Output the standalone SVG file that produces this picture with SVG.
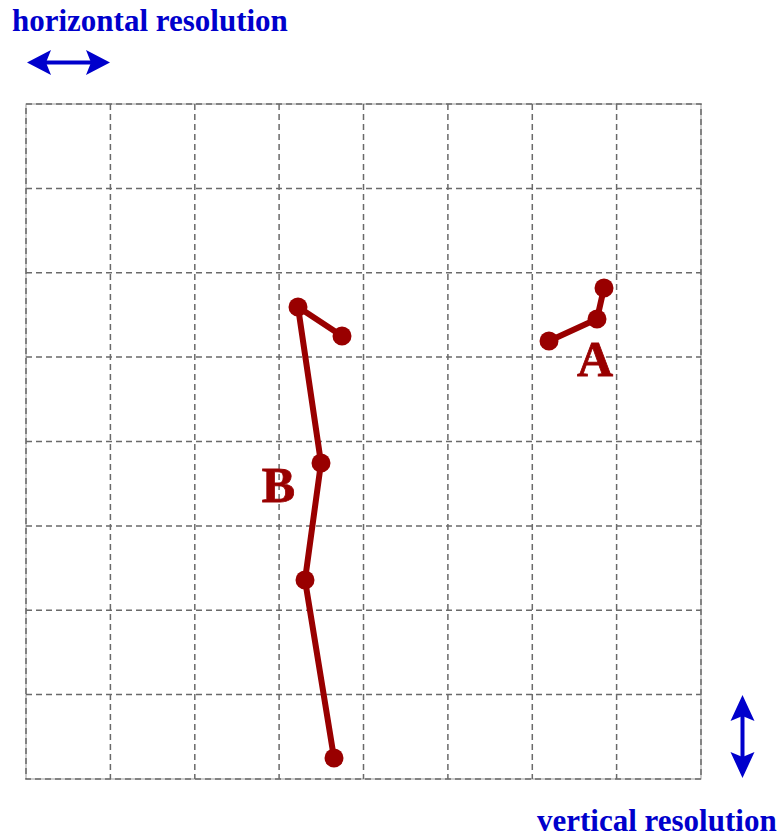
<svg xmlns="http://www.w3.org/2000/svg" width="782" height="838" viewBox="0 0 782 838">
<style>
.grid{stroke:#6a6a6a;stroke-width:1.5;stroke-dasharray:6 4;fill:none}
.border{stroke:#999;stroke-width:1;fill:none}
.path{stroke:#990000;stroke-width:6;fill:none;stroke-linejoin:round;stroke-linecap:round}
.dot{fill:#990000}
.lbl{font-family:"Liberation Serif","Times New Roman",serif;font-weight:bold;fill:#990000;font-size:50px;text-anchor:middle;stroke:#990000;stroke-width:0.8}
.blue{font-family:"Liberation Serif","Times New Roman",serif;font-weight:bold;fill:#0000cc;font-size:31px}
.arr{fill:#0000cc}
.shaft{stroke:#0000cc;stroke-width:4}
</style>
<rect width="782" height="838" fill="#fff"/>
<g id="grid">
<rect class="border" x="26" y="104" width="675" height="675"/>
<rect class="grid" x="26" y="104" width="675" height="675"/>
<path class="grid" d="M110.4 104V779M194.8 104V779M279.1 104V779M363.5 104V779M447.9 104V779M532.3 104V779M616.6 104V779M26 188.4H701M26 272.8H701M26 357.1H701M26 441.5H701M26 525.9H701M26 610.3H701M26 694.6H701"/>
</g>
<g id="labels">
<text class="blue" x="12" y="31">horizontal resolution</text>
<text class="blue" x="537" y="831">vertical resolution</text>
</g>
<g id="h-arrow">
<line class="shaft" x1="40" y1="62.5" x2="97" y2="62.5"/>
<polygon class="arr" points="27,62.5 51,50 46,62.5 51,75"/>
<polygon class="arr" points="110,62.5 86,50 91,62.5 86,75"/>
</g>
<g id="v-arrow">
<line class="shaft" x1="742.5" y1="708" x2="742.5" y2="765"/>
<polygon class="arr" points="742.5,695 730.5,721 742.5,716 754.5,721"/>
<polygon class="arr" points="742.5,778 730.5,752 742.5,757 754.5,752"/>
</g>
<g id="connectors">
<polyline class="path" points="342,336 298,307 321,463 305,580 334,758"/>
<polyline class="path" points="549,341 597,319 604,288"/>
</g>
<g id="nodeB">
<circle class="dot" cx="298" cy="307" r="9.5"/>
<circle class="dot" cx="342" cy="336" r="9.5"/>
<circle class="dot" cx="321" cy="463" r="9.5"/>
<circle class="dot" cx="305" cy="580" r="9.5"/>
<circle class="dot" cx="334" cy="758" r="9.5"/>
<text class="lbl" x="278.5" y="502">B</text>
</g>
<g id="nodeA">
<circle class="dot" cx="549" cy="341" r="9.5"/>
<circle class="dot" cx="597" cy="319" r="9.5"/>
<circle class="dot" cx="604" cy="288" r="9.5"/>
<text class="lbl" x="595" y="376">A</text>
</g>
</svg>
